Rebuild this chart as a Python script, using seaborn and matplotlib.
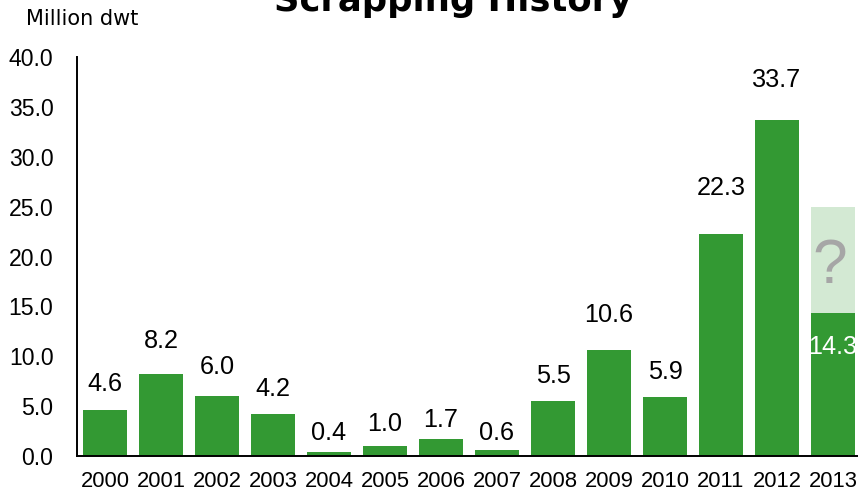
import matplotlib
matplotlib.use("Agg")
import matplotlib.pyplot as plt
import seaborn as sns
import numpy as np
import pandas as pd

years = ["2000", "2001", "2002", "2003", "2004", "2005", "2006", "2007",
         "2008", "2009", "2010", "2011", "2012", "2013"]
scrapped = [4.6, 8.2, 6.0, 4.2, 0.4, 1.0, 1.7, 0.6, 5.5, 10.6, 5.9, 22.3, 33.7, 14.3]
forecast_total = [np.nan] * 13 + [25.0]
yticks = [0, 5, 10, 15, 20, 25, 30, 35, 40]

# label placement (pixels above the bar top)
label_offsets = [26, 33, 29, 25, 19, 22, 19, 17, 25, 35, 25, 46, 40, None]

DARK = "#339933"
LIGHT = "#d3e9d3"

sns.set_style("white")
plt.rcParams["font.family"] = ["Liberation Sans", "DejaVu Sans"]
plt.rcParams["text.color"] = "black"
plt.rcParams["xtick.color"] = "black"
plt.rcParams["ytick.color"] = "black"

fig = plt.figure(figsize=(8.58, 4.92), dpi=100)
W, H = 858, 492
ax = fig.add_axes([77 / W, 1 - 456 / H, (861 - 77) / W, (456 - 57) / H])

df = pd.DataFrame({"year": years, "scrapped": scrapped, "forecast": forecast_total})

sns.barplot(data=df, x="year", y="forecast", color=LIGHT, saturation=1,
            width=0.8, ax=ax, edgecolor="none")
sns.barplot(data=df, x="year", y="scrapped", color=DARK, saturation=1,
            width=0.8, ax=ax, edgecolor="none")

ax.set_xlim(-0.5, len(years) - 0.5)
ax.set_ylim(0, 40)
ax.set_yticks(yticks)
ax.set_yticklabels([f"{v:.1f}" for v in yticks], fontsize=16.6)
ax.set_xlabel("")
ax.set_ylabel("")
ax.set_xticks(range(len(years)))
ax.set_xticklabels(years, fontsize=15.8)
ax.set_xticks(np.arange(-0.5, len(years) - 0.4, 1), minor=True)
ax.tick_params(axis="x", which="major", length=0, pad=11)
ax.tick_params(axis="x", which="minor", length=5, width=1.4, color="black", direction="out")
ax.tick_params(axis="y", which="major", length=6, width=1.4, color="black", direction="out", pad=11)
for s in ["top", "right"]:
    ax.spines[s].set_visible(False)
for s in ["left", "bottom"]:
    ax.spines[s].set_color("black")
    ax.spines[s].set_linewidth(1.4)

for i, (v, off) in enumerate(zip(scrapped, label_offsets)):
    if off is None:
        ax.annotate(f"{v:.1f}", (i, v), xytext=(0, -34), textcoords="offset pixels",
                    ha="center", va="center", fontsize=18.2, color="white")
    else:
        ax.annotate(f"{v:.1f}", (i, v), xytext=(0, off), textcoords="offset pixels",
                    ha="center", va="center", fontsize=18.2, color="black")

ax.annotate("?", (13, (scrapped[13] + forecast_total[13]) / 2), xytext=(-3, -7),
            textcoords="offset pixels", ha="center", va="center",
            fontsize=45, color="#a6a6a6")

fig.text(26 / W, 1 - 19 / H, "Million dwt", ha="left", va="center",
         fontsize=15, family=["DejaVu Sans"])
fig.text(453 / W, 1 - 11 / H, "Scrapping History", ha="center", va="baseline",
         fontsize=25.5, fontweight="bold", family=["DejaVu Sans"])

fig.savefig("out.png", dpi=100)
